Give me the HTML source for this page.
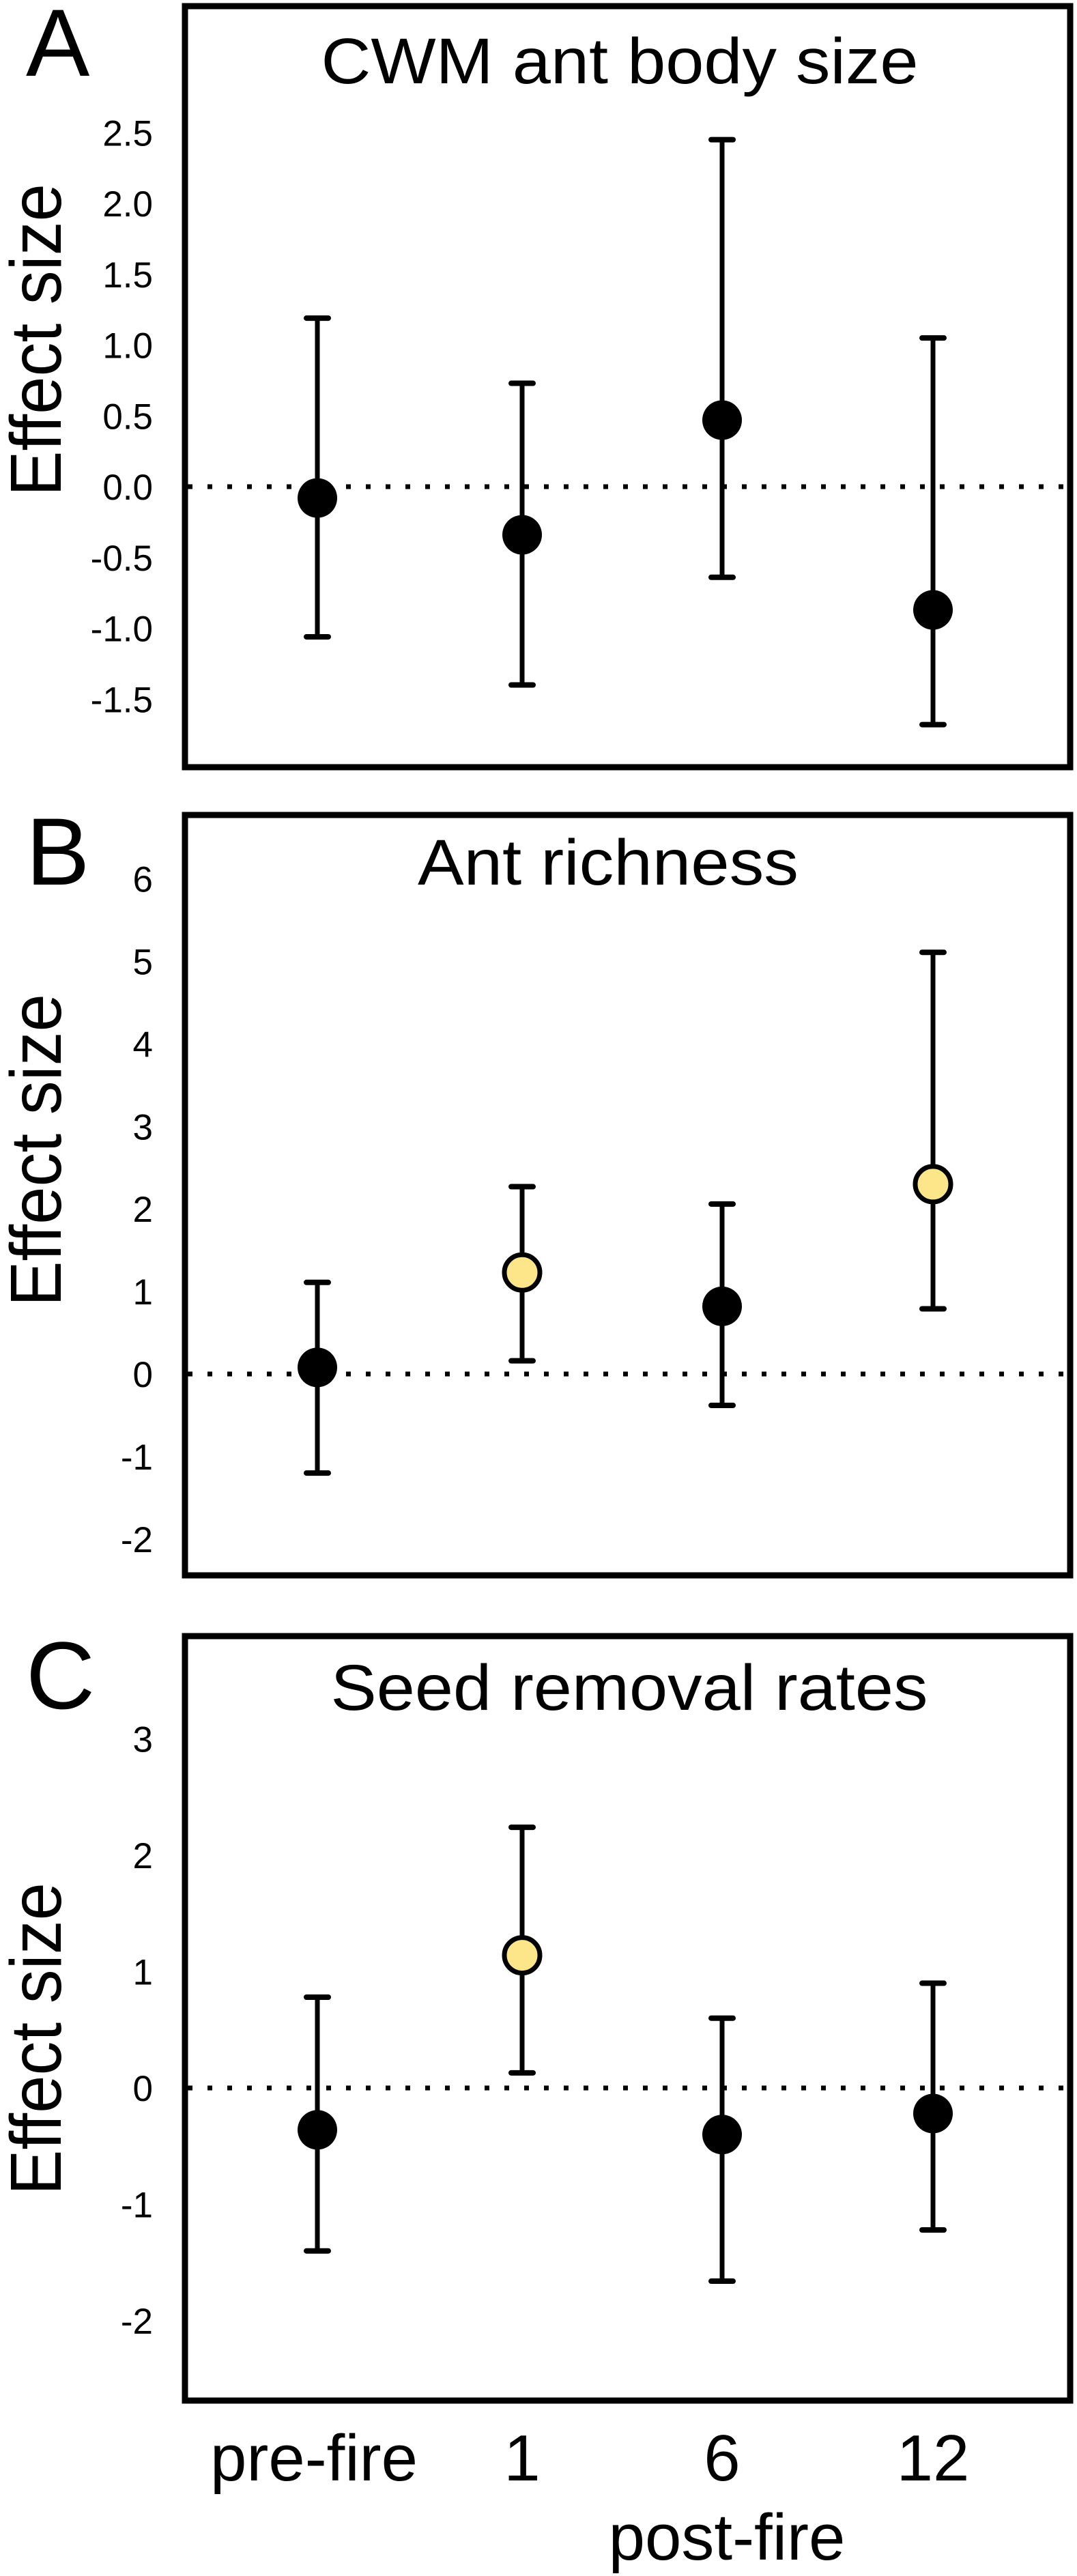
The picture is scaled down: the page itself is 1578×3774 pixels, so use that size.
<!DOCTYPE html>
<html><head><meta charset="utf-8"><style>
html,body{margin:0;padding:0;background:#fff;}
svg{display:block;}
text{font-family:"Liberation Sans",Arial,sans-serif;fill:#000;}
</style></head>
<body>
<svg id="fig" width="1578" height="3774" viewBox="0 0 1578 3774" xmlns="http://www.w3.org/2000/svg"></svg>
<script>
const categories = ["pre-fire", "1", "6", "12"];
const aMeans = [-0.08, -0.34, 0.47, -0.87];
const aLow = [-1.06, -1.40, -0.64, -1.68];
const aHigh = [1.19, 0.73, 2.45, 1.05];
const aSig = [false, false, false, false];
const aTicks = ["2.5","2.0","1.5","1.0","0.5","0.0","-0.5","-1.0","-1.5"];
const aTickVals = [2.5,2.0,1.5,1.0,0.5,0.0,-0.5,-1.0,-1.5];
const bMeans = [0.08, 1.23, 0.82, 2.30];
const bLow = [-1.20, 0.16, -0.38, 0.79];
const bHigh = [1.11, 2.27, 2.06, 5.11];
const bSig = [false, true, false, true];
const bTicks = ["6","5","4","3","2","1","0","-1","-2"];
const bTickVals = [6,5,4,3,2,1,0,-1,-2];
const cMeans = [-0.36, 1.14, -0.40, -0.22];
const cLow = [-1.40, 0.13, -1.66, -1.22];
const cHigh = [0.78, 2.24, 0.60, 0.90];
const cSig = [false, true, false, false];
const cTicks = ["3","2","1","0","-1","-2"];
const cTickVals = [3,2,1,0,-1,-2];

const NS = "http://www.w3.org/2000/svg";
const svg = document.getElementById("fig");
const colX = [465, 765, 1058, 1367];
function mk(tag, attrs, parent){const e=document.createElementNS(NS,tag);for(const k in attrs)e.setAttribute(k,attrs[k]);(parent||svg).appendChild(e);return e;}

function panel(cfg){
  const g = mk("g",{});
  
  
  const y = v => cfg.y0 - v*cfg.unit;
  const box = mk("rect",{x:271,y:cfg.top,width:1297,height:cfg.bottom-cfg.top,fill:"none",stroke:"#000","stroke-width":9},g);
  
  
  const zl = mk("line",{x1:275,x2:1564,y1:y(0),y2:y(0),stroke:"#000","stroke-width":7,"stroke-dasharray":"7 22"},g);
  
  
  const letter = mk("text",{x:38,y:cfg.letterY,"font-size":140},g);
  letter.textContent = cfg.letter;
  
  
  const title = mk("text",{x:cfg.titleX,y:cfg.titleY,"font-size":95,"text-anchor":"middle",textLength:cfg.titleW,lengthAdjust:"spacingAndGlyphs"},g);
  title.textContent = cfg.title;
  
  
  const yl = mk("text",{x:0,y:0,"font-size":106,"text-anchor":"middle",textLength:458,lengthAdjust:"spacingAndGlyphs",transform:`translate(89,${cfg.labelC}) rotate(-90)`},g);
  yl.textContent = "Effect size";
  
  
  cfg.ticks.forEach((t,i)=>{
    const tx = mk("text",{x:224,y:y(cfg.tickVals[i])+19,"font-size":53,"text-anchor":"end"},g);
    tx.textContent = t;
    
    
  });
  cfg.means.forEach((m,i)=>{
    const x = colX[i];
    const eb = mk("line",{x1:x,x2:x,y1:y(cfg.high[i]),y2:y(cfg.low[i]),stroke:"#000","stroke-width":7},g);
    
    
    [cfg.high[i], cfg.low[i]].forEach(v=>{
      const c = mk("line",{x1:x-16,x2:x+16,y1:y(v),y2:y(v),stroke:"#000","stroke-width":8,"stroke-linecap":"round"},g);
      
      
    });
    const sig = cfg.sig[i];
    const pt = mk("circle",{cx:x,cy:y(m),r:sig?26:29,fill:sig?"#fde58a":"#000",stroke:"#000","stroke-width":sig?7:0},g);
    
    
  });
}

panel({name:"panel-a-cwm-body-size",top:9,bottom:1124,y0:713,unit:207.5,letter:"A",letterY:111,title:"CWM ant body size",titleX:908,titleY:122,titleW:875,labelC:498,ticks:aTicks,tickVals:aTickVals,means:aMeans,low:aLow,high:aHigh,sig:aSig});
panel({name:"panel-b-ant-richness",top:1194,bottom:2308,y0:2013,unit:120.9,letter:"B",letterY:1296,title:"Ant richness",titleX:891,titleY:1296,titleW:558,labelC:1685,ticks:bTicks,tickVals:bTickVals,means:bMeans,low:bLow,high:bHigh,sig:bSig});
panel({name:"panel-c-seed-removal",top:2397,bottom:3517,y0:3059,unit:170.5,letter:"C",letterY:2503,title:"Seed removal rates",titleX:922,titleY:2505,titleW:875,labelC:2987,ticks:cTicks,tickVals:cTickVals,means:cMeans,low:cLow,high:cHigh,sig:cSig});

categories.forEach((c,i)=>{
  const t = mk("text",{x:colX[i]-(i===0?5:0),y:3634,"font-size":96,"text-anchor":"middle"});
  t.textContent = c;
  
  
});
const xt = mk("text",{x:1065,y:3750,"font-size":96,"text-anchor":"middle"});
xt.textContent = "post-fire";


</script>
</body></html>
